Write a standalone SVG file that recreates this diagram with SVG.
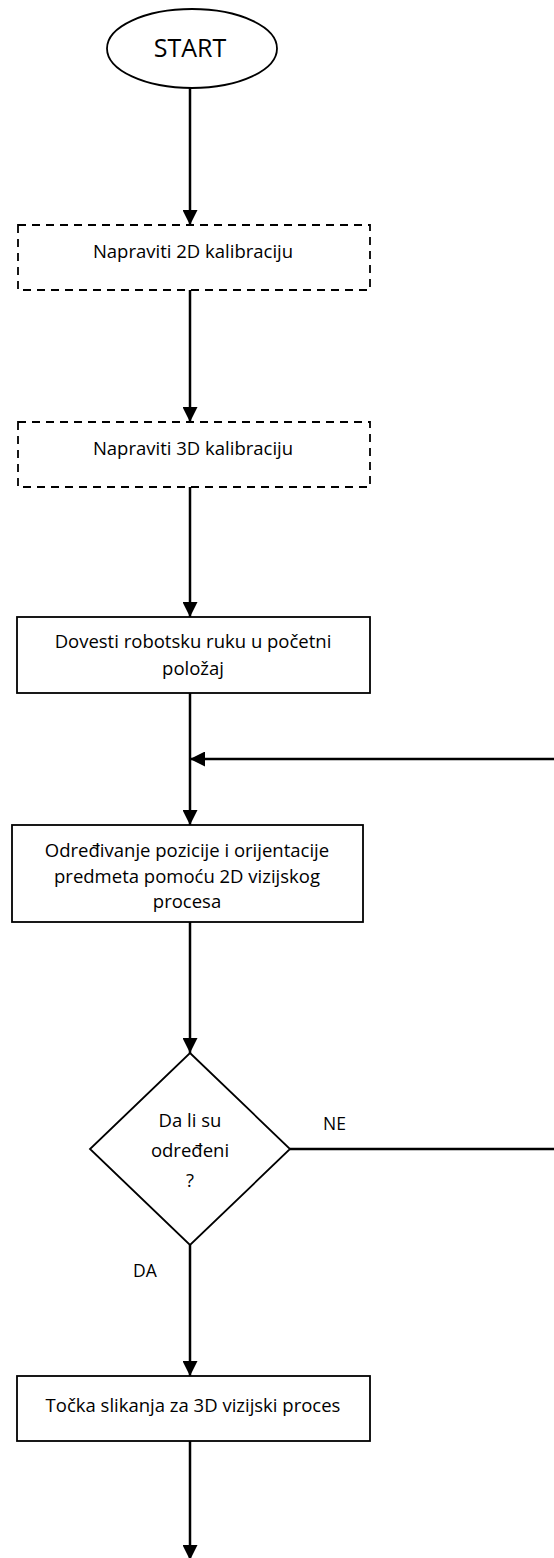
<svg xmlns="http://www.w3.org/2000/svg" width="554" height="1558" viewBox="0 0 554 1558">
<style>
  .node { fill: #ffffff; stroke: #000000; stroke-width: 1.8; }
  .dashed { stroke-dasharray: 8 6; }
  .conn { fill: none; stroke: #000000; stroke-width: 2.5; }
  .t { font-family: "Open Sans", "Liberation Sans", sans-serif; font-size: 18.5px; fill: #000000; text-anchor: middle; }
  .lbl { font-family: "Open Sans", "Liberation Sans", sans-serif; font-size: 17.5px; fill: #000000; }
</style>
<defs>
  <marker id="arr" viewBox="0 0 15 15" refX="15" refY="7.5" markerWidth="15" markerHeight="15" markerUnits="userSpaceOnUse" orient="auto">
    <path d="M0,0 L15,7.5 L0,15 z" fill="#000000"/>
  </marker>
</defs>
<rect width="554" height="1558" fill="#ffffff"/>
<g id="connectors">
  <path class="conn" d="M190,88 V225" marker-end="url(#arr)"/>
  <path class="conn" d="M190,290 V422" marker-end="url(#arr)"/>
  <path class="conn" d="M190,487 V617" marker-end="url(#arr)"/>
  <path class="conn" d="M190,693 V825" marker-end="url(#arr)"/>
  <path class="conn" d="M556,759 H190" marker-end="url(#arr)"/>
  <path class="conn" d="M190,922 V1053" marker-end="url(#arr)"/>
  <path class="conn" d="M290,1149 H556"/>
  <path class="conn" d="M190,1245 V1376" marker-end="url(#arr)"/>
  <path class="conn" d="M190,1441 V1560" marker-end="url(#arr)"/>
  <text class="lbl" x="323" y="1130">NE</text>
  <text class="lbl" x="133" y="1277">DA</text>
</g>
<g id="start">
  <ellipse class="node" cx="192" cy="48.5" rx="85" ry="39.5"/>
  <text class="t" x="190" y="57" style="font-size:25px">START</text>
</g>
<g id="cal2d">
  <rect class="node dashed" x="18" y="225" width="352" height="65"/>
  <text class="t" x="193" y="258">Napraviti 2D kalibraciju</text>
</g>
<g id="cal3d">
  <rect class="node dashed" x="18" y="422" width="352" height="65"/>
  <text class="t" x="193" y="455">Napraviti 3D kalibraciju</text>
</g>
<g id="home">
  <rect class="node" x="17" y="617" width="353" height="76"/>
  <text class="t" x="193" y="648">Dovesti robotsku ruku u početni</text>
  <text class="t" x="193" y="675">položaj</text>
</g>
<g id="detect">
  <rect class="node" x="12" y="825" width="351" height="97"/>
  <text class="t" x="187" y="857">Određivanje pozicije i orijentacije</text>
  <text class="t" x="187" y="883">predmeta pomoću 2D vizijskog</text>
  <text class="t" x="187" y="908">procesa</text>
</g>
<g id="decision">
  <polygon class="node" points="190,1053 290,1149 190,1245 90,1149"/>
  <text class="t" x="190" y="1127">Da li su</text>
  <text class="t" x="190" y="1157">određeni</text>
  <text class="t" x="190" y="1187">?</text>
</g>
<g id="imaging">
  <rect class="node" x="17" y="1376" width="353" height="65"/>
  <text class="t" x="193" y="1412">Točka slikanja za 3D vizijski proces</text>
</g>
</svg>
